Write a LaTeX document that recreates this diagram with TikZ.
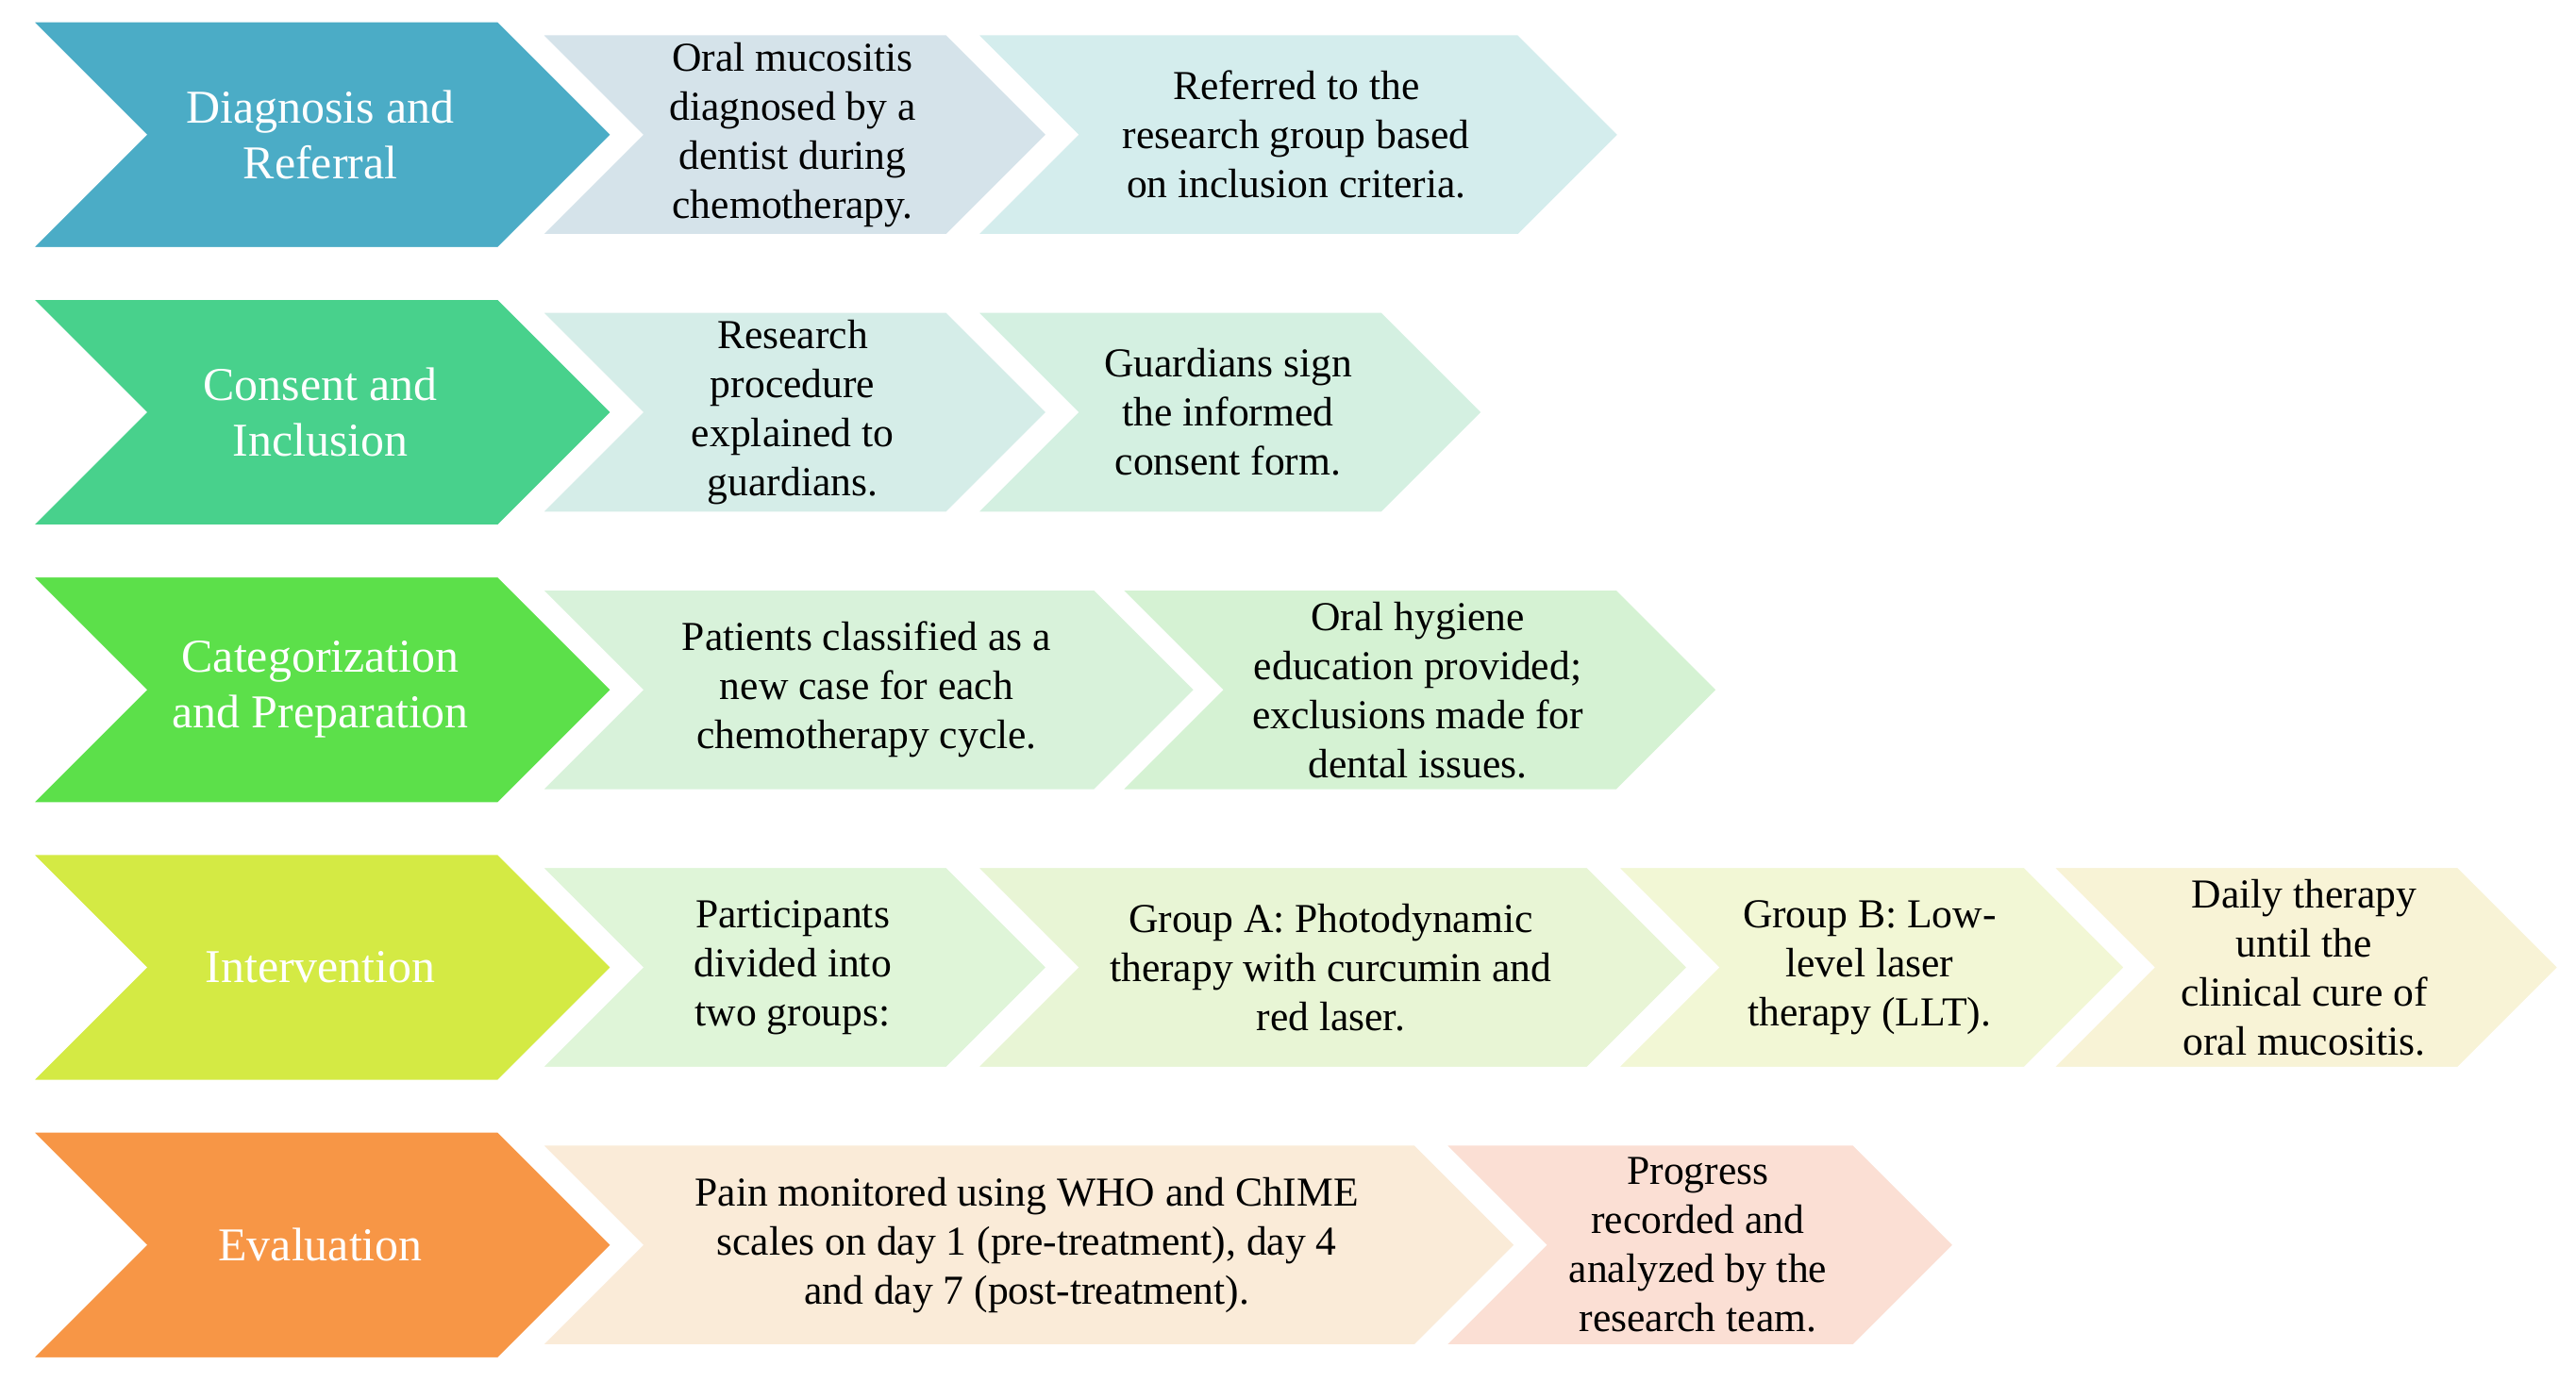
\documentclass[tikz,border=0pt]{standalone}
\usepackage{fontspec}
\setmainfont{Liberation Serif}
\begin{document}
\begin{tikzpicture}[x=0.01741cm,y=-0.01741cm,
  chev/.style={draw=white,line width=2.5pt,line join=miter},
  mainlab/.style={text=white,align=center,font=\fontsize{14.2}{16.8}\selectfont},
  sublab/.style={text=black,align=center,font=\fontsize{12.4}{14.8}\selectfont}]
\newcommand\chev[8]{%
  \pgfmathsetmacro\dd{(#4-#3)/2}%
  \pgfmathsetmacro\ym{(#4+#3)/2}%
  \pgfmathsetmacro\xm{(#1+#2)/2}%
  \fill[#5] (#1,#3) -- (#2-\dd,#3) -- (#2,\ym) -- (#2-\dd,#4) -- (#1,#4) -- (#1+\dd,\ym) -- cycle;
  \draw[chev] (#1,#3) -- (#2-\dd,#3) -- (#2,\ym) -- (#2-\dd,#4) -- (#1,#4) -- (#1+\dd,\ym) -- cycle;
  \node[#8] (#6) at (\xm,\ym) {#7};}
\definecolor{m1}{RGB}{75,172,198}\definecolor{m2}{RGB}{72,209,140}
\definecolor{m3}{RGB}{92,224,74}\definecolor{m4}{RGB}{212,234,68}
\definecolor{m5}{RGB}{247,150,70}
\useasboundingbox (0,0) rectangle (1568,841);
% row 1
\chev{590}{988}{19}{145}{fill={rgb,255:red,212;green,237;blue,237}}{r1b}{Referred to the\\research group based\\on inclusion criteria.}{sublab}
\chev{325}{640}{19}{145}{fill={rgb,255:red,213;green,227;blue,234}}{r1a}{Oral mucositis\\diagnosed by a\\dentist during\\chemotherapy.}{sublab}
\chev{15}{375}{11}{153}{fill=m1}{m1n}{Diagnosis and\\Referral}{mainlab}
% row 2
\chev{590}{905}{188}{314}{fill={rgb,255:red,212;green,240;blue,225}}{r2b}{Guardians sign\\the informed\\consent form.}{sublab}
\chev{325}{640}{188}{314}{fill={rgb,255:red,213;green,237;blue,232}}{r2a}{Research\\procedure\\explained to\\guardians.}{sublab}
\chev{15}{375}{180}{322}{fill=m2}{m2n}{Consent and\\Inclusion}{mainlab}
% row 3
\chev{678}{1048}{357}{483}{fill={rgb,255:red,213;green,242;blue,211}}{r3b}{Oral hygiene\\education provided;\\exclusions made for\\dental issues.}{sublab}
\chev{325}{730}{357}{483}{fill={rgb,255:red,216;green,242;blue,218}}{r3a}{Patients classified as a\\new case for each\\chemotherapy cycle.}{sublab}
\chev{15}{375}{349}{491}{fill=m3}{m3n}{Categorization\\and Preparation}{mainlab}
% row 4
\chev{1245}{1560}{526}{652}{fill={rgb,255:red,248;green,243;blue,214}}{r4d}{Daily therapy\\until the\\clinical cure of\\oral mucositis.}{sublab}
\chev{980}{1296}{526}{652}{fill={rgb,255:red,242;green,247;blue,213}}{r4c}{Group B: Low-\\level laser\\therapy (LLT).}{sublab}
\chev{590}{1030}{526}{652}{fill={rgb,255:red,232;green,245;blue,213}}{r4b}{Group A: Photodynamic\\therapy with curcumin and\\red laser.}{sublab}
\chev{325}{640}{526}{652}{fill={rgb,255:red,223;green,245;blue,216}}{r4a}{Participants\\divided into\\two groups:}{sublab}
\chev{15}{375}{518}{660}{fill=m4}{m4n}{Intervention}{mainlab}
% row 5
\chev{875}{1192}{695}{821}{fill={rgb,255:red,251;green,223;blue,212}}{r5b}{Progress\\recorded and\\analyzed by the\\research team.}{sublab}
\chev{325}{925}{695}{821}{fill={rgb,255:red,250;green,235;blue,216}}{r5a}{Pain monitored using WHO and ChIME\\scales on day 1 (pre-treatment), day 4\\and day 7 (post-treatment).}{sublab}
\chev{15}{375}{687}{829}{fill=m5}{m5n}{Evaluation}{mainlab}
\end{tikzpicture}
\end{document}
